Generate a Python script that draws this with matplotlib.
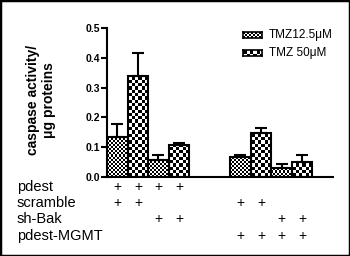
import numpy as np
import matplotlib
matplotlib.use('Agg')
import matplotlib.pyplot as plt
from matplotlib.patches import Rectangle
import matplotlib.transforms as mtransforms

plt.rcParams['font.family'] = ['Liberation Sans', 'DejaVu Sans']

# data
series = ['TMZ12.5μM', 'TMZ 50μM']
pos_low = [0, 2, 6, 8]
pos_high = [1, 3, 7, 9]
tmz_low = [0.135, 0.057, 0.066, 0.031]
tmz_low_err = [0.043, 0.016, 0.008, 0.012]
tmz_high = [0.34, 0.106, 0.147, 0.05]
tmz_high_err = [0.077, 0.008, 0.017, 0.023]

row_names = ['pdest', 'scramble', 'sh-Bak', 'pdest-MGMT']
bar_order = [0, 1, 2, 3, 6, 7, 8, 9]
flags = [
    [1, 1, 1, 1, 0, 0, 0, 0],
    [1, 1, 0, 0, 1, 1, 0, 0],
    [0, 0, 1, 1, 0, 0, 1, 1],
    [0, 0, 0, 0, 1, 1, 1, 1],
]

CELL = {'low': 2.0, 'high': 3.3}


def checker(w, h, c):
    w = max(int(round(w)), 1)
    h = max(int(round(h)), 1)
    jj, ii = np.meshgrid(np.arange(w), np.arange(h))
    return ((np.floor(ii / c) + np.floor(jj / c)) % 2).astype(float)


fig = plt.figure(figsize=(3.5, 2.56), dpi=100)
ax = fig.add_axes([0.306, 0.309, 0.645, 0.582])
ax.set_xlim(-0.5, 10.5)
ax.set_ylim(0, 0.5)

bars_low = ax.bar(pos_low, tmz_low, width=1.0, facecolor='none', edgecolor='black', linewidth=1.5, zorder=3)
bars_high = ax.bar(pos_high, tmz_high, width=1.0, facecolor='none', edgecolor='black', linewidth=1.5, zorder=3)

# checker fill for each bar
px_x = ax.get_window_extent().width / 11.0
px_y = ax.get_window_extent().height / 0.5
for bars, key in [(bars_low, 'low'), (bars_high, 'high')]:
    for b in bars:
        x0, w, h = b.get_x(), b.get_width(), b.get_height()
        arr = checker(w * px_x, h * px_y, CELL[key])
        im = ax.imshow(arr, cmap='gray', vmin=0, vmax=1, interpolation='nearest',
                       extent=[x0, x0 + w, 0, h], origin='lower', aspect='auto', zorder=2)
        im.set_clip_path(b)

ax.errorbar(pos_low, tmz_low, yerr=[np.zeros(4), tmz_low_err], fmt='none', ecolor='black',
            elinewidth=1.5, capsize=4, capthick=1.5, zorder=4)
ax.errorbar(pos_high, tmz_high, yerr=[np.zeros(4), tmz_high_err], fmt='none', ecolor='black',
            elinewidth=1.5, capsize=4, capthick=1.5, zorder=4)

ax.spines['top'].set_visible(False)
ax.spines['right'].set_visible(False)
ax.spines['left'].set_linewidth(1.5)
ax.spines['bottom'].set_linewidth(1.5)
ax.set_xticks([])
ax.set_yticks([0, 0.1, 0.2, 0.3, 0.4, 0.5])
ax.set_yticklabels(['0.0', '0.1', '0.2', '0.3', '0.4', '0.5'], fontweight='bold', fontsize=7.5)
ax.tick_params(axis='y', length=4, width=1.5, pad=1)

fig.text(0.117, 0.61, 'caspase activity/\nμg proteins', rotation=90, ha='center', va='center',
         fontsize=10, fontweight='bold', multialignment='center', linespacing=1.25)

# legend drawn by hand
leg_y = [0.852, 0.781]
for k, key in enumerate(['low', 'high']):
    sax = fig.add_axes([0.694, leg_y[k], 0.054, 0.0234])
    sax.imshow(checker(19, 6, CELL[key]), cmap='gray', vmin=0, vmax=1,
               interpolation='nearest', aspect='auto')
    sax.set_xticks([])
    sax.set_yticks([])
    for s in sax.spines.values():
        s.set_linewidth(1.2)
    fig.text(0.768, leg_y[k] + 0.0117, series[k], fontsize=8.5, va='center', ha='left')

# table of + signs
row_y = [187, 203, 219, 236]
trans = mtransforms.blended_transform_factory(ax.transData, fig.transFigure)
for r, name in enumerate(row_names):
    yf = 1 - row_y[r] / 256
    fig.text(17 / 350, yf, name, fontsize=10.5, va='center', ha='left')
    for c, xb in enumerate(bar_order):
        if flags[r][c]:
            ax.text(xb, yf, '+', transform=trans, fontsize=10, ha='center', va='center',
                    clip_on=False)

fig.patches.append(Rectangle((0, 0), 1, 1, transform=fig.transFigure, fill=False,
                             edgecolor='black', linewidth=2.5, figure=fig))

fig.savefig('out.png', dpi=100)
